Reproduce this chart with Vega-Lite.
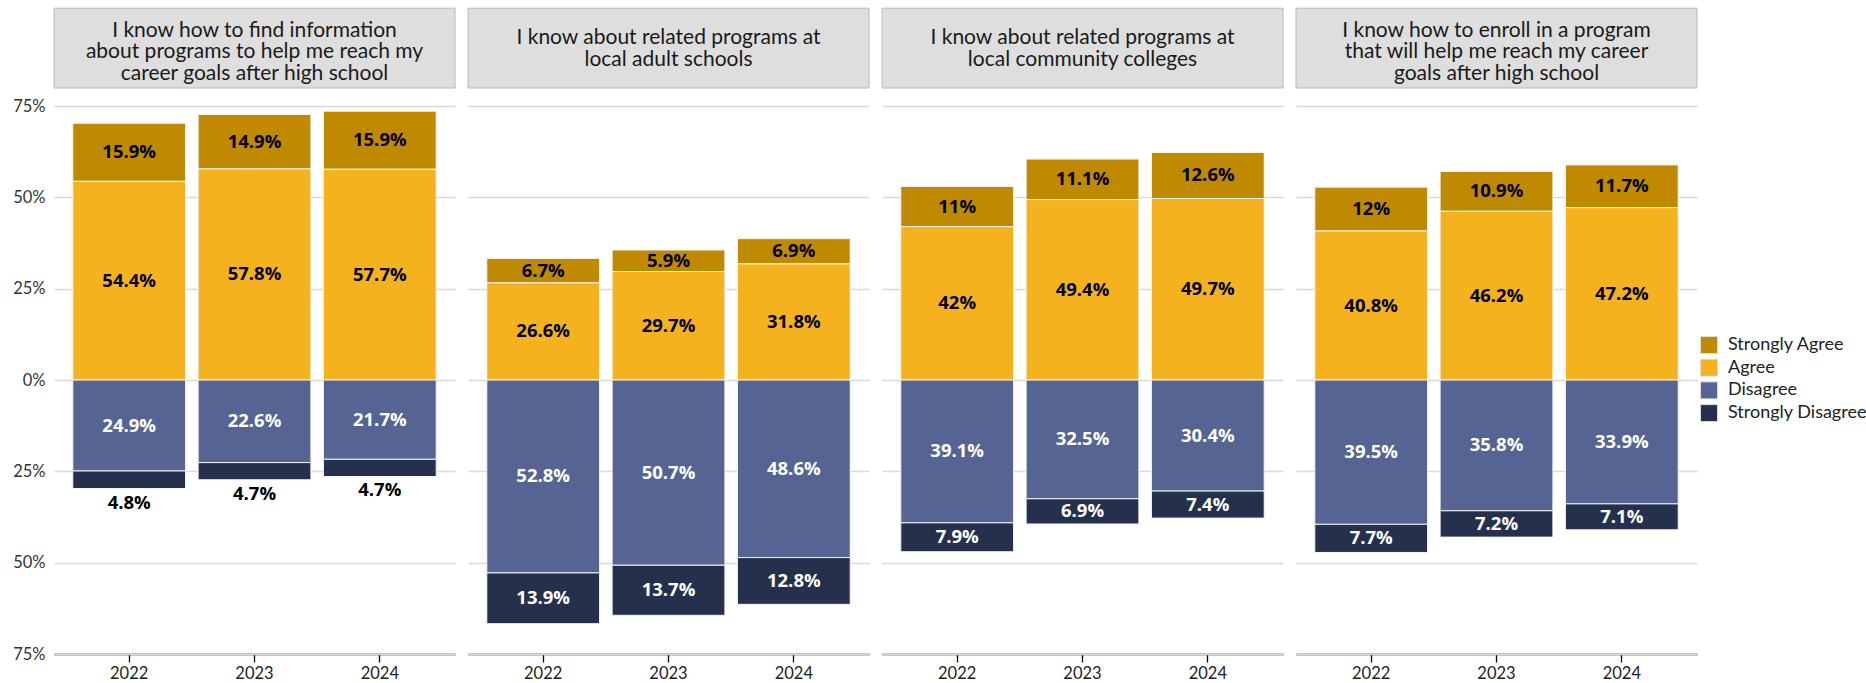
{
  "$schema": "https://vega.github.io/schema/vega-lite/v6.json",
  "padding": {"left": 12, "top": 6, "right": 5, "bottom": 5},
  "background": "white",
  "config": {"view": {"stroke": null}, "font": "Lato"},
  "datasets": {
    "survey": [
      {"q": 1, "year": 2022, "response": "Strongly Agree", "value": 15.9},
      {"q": 1, "year": 2022, "response": "Agree", "value": 54.4},
      {"q": 1, "year": 2022, "response": "Disagree", "value": -24.9},
      {"q": 1, "year": 2022, "response": "Strongly Disagree", "value": -4.8},
      {"q": 1, "year": 2023, "response": "Strongly Agree", "value": 14.9},
      {"q": 1, "year": 2023, "response": "Agree", "value": 57.8},
      {"q": 1, "year": 2023, "response": "Disagree", "value": -22.6},
      {"q": 1, "year": 2023, "response": "Strongly Disagree", "value": -4.7},
      {"q": 1, "year": 2024, "response": "Strongly Agree", "value": 15.9},
      {"q": 1, "year": 2024, "response": "Agree", "value": 57.7},
      {"q": 1, "year": 2024, "response": "Disagree", "value": -21.7},
      {"q": 1, "year": 2024, "response": "Strongly Disagree", "value": -4.7},
      {"q": 2, "year": 2022, "response": "Strongly Agree", "value": 6.7},
      {"q": 2, "year": 2022, "response": "Agree", "value": 26.6},
      {"q": 2, "year": 2022, "response": "Disagree", "value": -52.8},
      {"q": 2, "year": 2022, "response": "Strongly Disagree", "value": -13.9},
      {"q": 2, "year": 2023, "response": "Strongly Agree", "value": 5.9},
      {"q": 2, "year": 2023, "response": "Agree", "value": 29.7},
      {"q": 2, "year": 2023, "response": "Disagree", "value": -50.7},
      {"q": 2, "year": 2023, "response": "Strongly Disagree", "value": -13.7},
      {"q": 2, "year": 2024, "response": "Strongly Agree", "value": 6.9},
      {"q": 2, "year": 2024, "response": "Agree", "value": 31.8},
      {"q": 2, "year": 2024, "response": "Disagree", "value": -48.6},
      {"q": 2, "year": 2024, "response": "Strongly Disagree", "value": -12.8},
      {"q": 3, "year": 2022, "response": "Strongly Agree", "value": 11},
      {"q": 3, "year": 2022, "response": "Agree", "value": 42},
      {"q": 3, "year": 2022, "response": "Disagree", "value": -39.1},
      {"q": 3, "year": 2022, "response": "Strongly Disagree", "value": -7.9},
      {"q": 3, "year": 2023, "response": "Strongly Agree", "value": 11.1},
      {"q": 3, "year": 2023, "response": "Agree", "value": 49.4},
      {"q": 3, "year": 2023, "response": "Disagree", "value": -32.5},
      {"q": 3, "year": 2023, "response": "Strongly Disagree", "value": -6.9},
      {"q": 3, "year": 2024, "response": "Strongly Agree", "value": 12.6},
      {"q": 3, "year": 2024, "response": "Agree", "value": 49.7},
      {"q": 3, "year": 2024, "response": "Disagree", "value": -30.4},
      {"q": 3, "year": 2024, "response": "Strongly Disagree", "value": -7.4},
      {"q": 4, "year": 2022, "response": "Strongly Agree", "value": 12},
      {"q": 4, "year": 2022, "response": "Agree", "value": 40.8},
      {"q": 4, "year": 2022, "response": "Disagree", "value": -39.5},
      {"q": 4, "year": 2022, "response": "Strongly Disagree", "value": -7.7},
      {"q": 4, "year": 2023, "response": "Strongly Agree", "value": 10.9},
      {"q": 4, "year": 2023, "response": "Agree", "value": 46.2},
      {"q": 4, "year": 2023, "response": "Disagree", "value": -35.8},
      {"q": 4, "year": 2023, "response": "Strongly Disagree", "value": -7.2},
      {"q": 4, "year": 2024, "response": "Strongly Agree", "value": 11.7},
      {"q": 4, "year": 2024, "response": "Agree", "value": 47.2},
      {"q": 4, "year": 2024, "response": "Disagree", "value": -33.9},
      {"q": 4, "year": 2024, "response": "Strongly Disagree", "value": -7.1}
    ],
    "titles": [
      {"q": 1, "lines": 3, "title": "I know how to find information\nabout programs to help me reach my\ncareer goals after high school"},
      {"q": 2, "lines": 2, "title": "I know about related programs at\nlocal adult schools"},
      {"q": 3, "lines": 2, "title": "I know about related programs at\nlocal community colleges"},
      {"q": 4, "lines": 3, "title": "I know how to enroll in a program\nthat will help me reach my career\ngoals after high school"}
    ]
  },
  "data": {"name": "survey"},
  "transform": [
    {"lookup": "q", "from": {"data": {"name": "titles"}, "key": "q", "fields": ["title", "lines"]}},
    {"calculate": "(datum.response === 'Agree' || datum.response === 'Disagree') ? 0 : 1", "as": "ord"},
    {"stack": "value", "groupby": ["q", "year"], "sort": [{"field": "ord", "order": "ascending"}], "as": ["y0", "y1"], "offset": "zero"},
    {"calculate": "(datum.y0 + datum.y1) / 2", "as": "mid"},
    {"calculate": "min(datum.y0, datum.y1)", "as": "lo"},
    {"calculate": "abs(datum.value) + '%'", "as": "label"}
  ],
  "facet": {"column": {"field": "q", "type": "ordinal", "header": null}},
  "spacing": 11,
  "resolve": {"scale": {"y": "shared", "x": "shared"}},
  "spec": {
    "width": 401,
    "height": 648,
    "layer": [
      {
        "mark": {"type": "bar", "stroke": "#f4f4f4", "strokeWidth": 1},
        "encoding": {
          "x": {
            "field": "year", "type": "ordinal",
            "scale": {"paddingInner": 0.1, "paddingOuter": 0.15},
            "axis": {
              "title": null, "labelAngle": 0, "domain": true, "domainColor": "#000000", "domainWidth": 1.3,
              "ticks": true, "tickColor": "#000000", "tickSize": 8, "tickWidth": 1.3, "zindex": 1,
              "labelFont": "Lato", "labelFontSize": 16.5, "labelColor": "#222222", "labelPadding": 3, "grid": false
            }
          },
          "y": {
            "field": "y0", "type": "quantitative",
            "scale": {"domain": [-75, 102.4], "nice": false, "zero": false},
            "axis": {
              "values": [-75, -50, -25, 0, 25, 50, 75],
              "labelExpr": "abs(datum.value) + '%'",
              "title": null, "domain": false, "ticks": false, "grid": true,
              "gridColor": "#d9d9d9", "gridWidth": 1.5,
              "labelFont": "Lato", "labelFontSize": 16.5, "labelColor": "#333333", "labelPadding": 8
            }
          },
          "y2": {"field": "y1"},
          "color": {
            "field": "response", "type": "nominal",
            "scale": {
              "domain": ["Strongly Agree", "Agree", "Disagree", "Strongly Disagree"],
              "range": ["#BF8900", "#F5B21F", "#566494", "#25304D"]
            },
            "legend": {
              "title": null, "orient": "none", "legendX": 1646, "legendY": 330,
              "symbolType": "square", "symbolSize": 289, "symbolStrokeColor": "#dddddd", "symbolStrokeWidth": 1,
              "labelFont": "Lato", "labelFontSize": 18, "labelColor": "#222222", "rowPadding": 0.7, "labelOffset": 10
            }
          }
        }
      },
      {
        "transform": [{"filter": "abs(datum.value) >= 5"}],
        "mark": {"type": "text", "font": "Open Sans", "fontWeight": "bold", "fontSize": 18.5, "baseline": "middle", "align": "center"},
        "encoding": {
          "x": {"field": "year", "type": "ordinal"},
          "y": {"field": "mid", "type": "quantitative"},
          "text": {"field": "label"},
          "color": {"condition": {"test": "datum.value < 0", "value": "#ffffff"}, "value": "#000000"}
        }
      },
      {
        "transform": [{"filter": "abs(datum.value) < 5"}],
        "mark": {"type": "text", "font": "Open Sans", "fontWeight": "bold", "fontSize": 18.5, "baseline": "middle", "align": "center", "dy": 14, "color": "#000000"},
        "encoding": {
          "x": {"field": "year", "type": "ordinal"},
          "y": {"field": "lo", "type": "quantitative"},
          "text": {"field": "label"}
        }
      },
      {
        "transform": [{"filter": "datum.year == 2022 && datum.response == 'Agree'"}],
        "mark": {"type": "rect", "fill": "#dedede", "stroke": "#b8b8b8", "strokeWidth": 1},
        "encoding": {
          "y": {"datum": 79.95, "type": "quantitative"},
          "y2": {"datum": 101.8}
        }
      },
      {
        "transform": [{"filter": "datum.year == 2022 && datum.response == 'Agree' && datum.lines == 3"}],
        "mark": {"type": "text", "font": "Lato", "fontSize": 21, "lineHeight": 21.7, "lineBreak": "\n", "baseline": "alphabetic", "align": "center", "color": "#1a1a1a"},
        "encoding": {
          "y": {"datum": 94.0, "type": "quantitative"},
          "text": {"field": "title"}
        }
      },
      {
        "transform": [{"filter": "datum.year == 2022 && datum.response == 'Agree' && datum.lines == 2"}],
        "mark": {"type": "text", "font": "Lato", "fontSize": 21, "lineHeight": 22, "lineBreak": "\n", "baseline": "alphabetic", "align": "center", "color": "#1a1a1a"},
        "encoding": {
          "y": {"datum": 92.0, "type": "quantitative"},
          "text": {"field": "title"}
        }
      }
    ]
  }
}
